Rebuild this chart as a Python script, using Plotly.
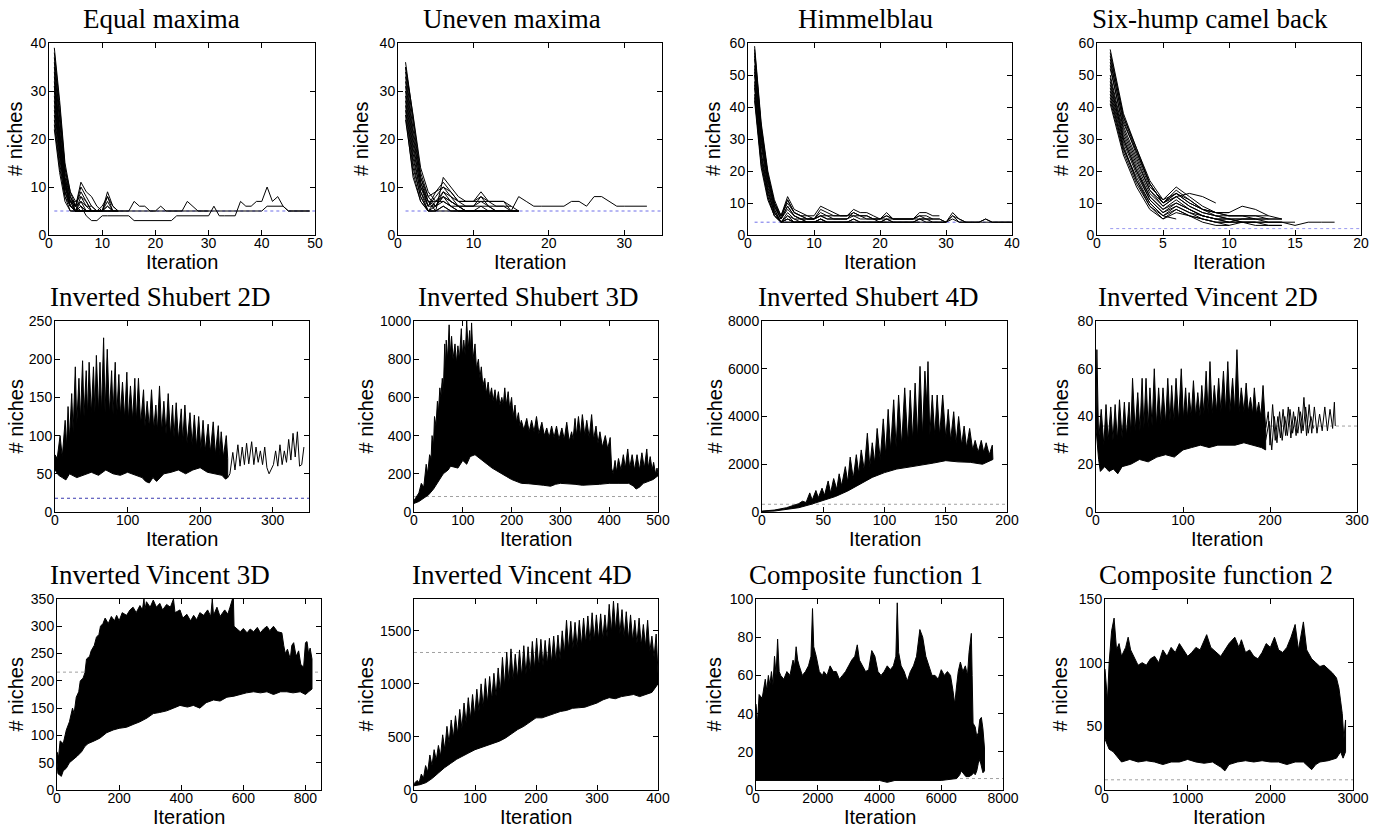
import plotly.graph_objects as go

W, H = 1386, 832
SERIF = "Liberation Serif, Times New Roman, serif"
SANS = "Liberation Sans, Arial, Helvetica, sans-serif"

TITLES = ["Equal maxima", "Uneven maxima", "Himmelblau", "Six-hump camel back",
          "Inverted Shubert 2D", "Inverted Shubert 3D", "Inverted Shubert 4D", "Inverted Vincent 2D",
          "Inverted Vincent 3D", "Inverted Vincent 4D", "Composite function 1", "Composite function 2"]
X_MAX = [50, 35, 40, 20, 350, 500, 200, 300, 850, 400, 8000, 3000]
X_DTICK = [10, 10, 10, 5, 100, 100, 50, 100, 200, 100, 2000, 1000]
Y_MAX = [40, 40, 60, 60, 250, 1000, 8000, 80, 350, 1800, 100, 150]
Y_DTICK = [10, 10, 10, 10, 50, 200, 2000, 20, 50, 500, 20, 50]
OPTIMA = [5, 5, 4, 2, 18, 81, 324, 36, 216, 1296, 6, 8]

# ---------- row 1: individual runs (values per iteration, starting at iteration 1)
EQ_RUNS = [
    [39, 28, 15, 9, 6, 5, 5, 5, 5, 5],
    [35, 24, 12, 7, 5, 5, 5, 5],
    [33, 22, 11, 6, 5, 6, 5, 5, 5],
    [31, 20, 12, 8, 6, 11, 9, 8, 6, 5, 5, 5],
    [29, 18, 10, 7, 6, 10, 8, 6, 5, 5, 9, 6, 5],
    [27, 17, 9, 6, 5, 8, 7, 5, 5, 5, 8, 6, 5],
    [25, 16, 9, 6, 5, 7, 5, 5, 5, 5, 7, 5, 5],
    [23, 14, 8, 5, 5, 6, 5, 5, 5, 5, 6, 5],
    [30, 19, 10, 7, 7, 8, 6, 6, 5, 5, 5, 5, 5],
    [34, 21, 11, 7, 6, 9, 7, 5, 5, 6, 8, 5, 5],
    [37, 26, 14, 8, 6, 5, 5, 5],
    [36, 25, 13, 8, 5, 5],
    [24, 15, 8, 6, 5, 5, 5],
    [22, 13, 7, 5, 5, 5],
    [31, 21, 11, 6, 6, 7, 6, 5, 5, 5, 6, 5],
    [38, 27, 14, 9, 7, 6, 5, 5, 5, 5],
    [32, 20, 11, 7, 5, 5, 5, 5, 5, 5, 5, 5, 5, 5, 5, 7, 6, 6, 5, 5, 6, 5, 5, 5, 5, 7, 6, 5, 5, 5],
    [28, 18, 10, 6, 5, 6, 4, 3, 3, 4, 4, 4, 4, 4, 4, 3, 3, 3, 3, 3, 3, 3, 3, 4, 4, 4, 4, 4, 4, 4,
     6, 4, 4, 4, 4, 7, 6, 6, 7, 7, 10, 7, 8, 6, 5, 5, 5, 5, 5],
    [26, 17, 9, 6, 5, 5, 5, 5, 5, 5, 5, 5, 5, 5, 5, 5, 5, 5, 5, 5, 5, 5, 5, 5, 5, 5, 5, 5, 5, 5,
     5, 5, 5, 5, 5, 5, 5, 5, 5, 5, 6, 6, 6, 6, 5, 5, 5, 5, 5],
]
UN_RUNS = [
    [36, 24, 13, 8, 6, 9, 7, 6, 5, 5, 5, 5, 5],
    [34, 22, 12, 7, 5, 12, 10, 8, 7, 7, 9, 7, 7, 7, 5, 8, 7, 6, 6, 6, 6, 6, 7, 7, 6, 8, 8, 7, 6, 6, 6, 6, 6],
    [32, 20, 11, 6, 9, 11, 9, 7, 6, 6, 6, 6, 5, 5, 5, 5],
    [30, 18, 10, 6, 8, 10, 8, 6, 6, 6, 8, 6, 6, 6, 5, 5],
    [28, 16, 9, 5, 7, 8, 7, 6, 5, 5, 6, 5, 5, 5, 5, 5],
    [26, 14, 8, 5, 6, 7, 6, 5, 5, 5, 5, 5, 5, 5, 5, 5],
    [25, 12, 7, 5, 5, 6, 5, 5, 5, 5, 5, 5],
    [33, 21, 11, 7, 7, 9, 8, 7, 7, 7, 7, 7, 7, 7, 6],
    [35, 23, 12, 8, 9, 10, 9, 7, 7, 7, 8, 7, 6, 6, 6, 5],
    [29, 17, 9, 6, 6, 8, 6, 6, 5, 5, 5, 5, 5, 5],
    [35, 25, 14, 9, 7, 7, 6, 5, 5, 5, 5, 5],
    [27, 15, 8, 5, 5, 6, 5, 5, 5, 5, 5, 5, 5, 5, 5, 5],
    [31, 19, 10, 7, 6, 8, 7, 6, 6, 6, 7, 6, 5, 5, 5, 5],
    [24, 13, 7, 5, 5, 5, 5, 5, 5, 5],
]
HIM_RUNS = [
    [59, 35, 20, 11, 6, 12, 8, 7, 6, 6, 9, 8, 7, 6, 6, 8, 7, 7, 6, 5, 7, 5, 5, 5, 5, 7, 7, 6, 6],
    [55, 32, 18, 10, 5, 11, 7, 6, 5, 5, 7, 6, 5, 5, 5, 7, 6, 6, 5, 5, 6, 5, 5, 5, 5, 6, 6, 5, 5, 4,
     7, 5, 4, 4, 4, 4, 4, 4, 4, 4],
    [52, 30, 17, 9, 5, 8, 6, 5, 5, 5, 6, 5, 5, 5, 5, 6, 5, 5, 5, 4, 5, 4, 4, 4, 4, 5, 5, 4, 4, 4,
     5, 4, 4, 4, 4, 5, 4, 4, 4, 4],
    [50, 28, 15, 8, 4, 7, 5, 5, 4, 4, 5, 4, 4, 4, 4, 5, 4, 4, 4, 4, 4],
    [48, 26, 14, 7, 4, 6, 5, 4, 4, 4, 4, 4, 4, 4, 4, 4],
    [46, 24, 13, 7, 4, 5, 4, 4, 4, 4, 5, 4, 4, 4, 4, 5, 4, 4, 4, 4, 5, 4, 4, 4, 4, 5, 4, 4, 4, 4, 6, 4, 4],
    [44, 22, 12, 6, 4, 5, 4, 4, 4, 4, 4, 4],
    [42, 21, 11, 6, 4, 4, 4, 4, 4],
    [57, 33, 19, 10, 6, 10, 7, 6, 6, 5, 6, 6, 6, 6, 6, 7, 6, 6, 5, 5, 6, 5, 5, 5, 5, 6, 5, 5, 5, 4,
     6, 5, 4, 4, 4, 5, 4, 4, 4, 4],
    [53, 31, 17, 9, 5, 9, 6, 5, 5, 5, 8, 7, 6, 6, 6, 6, 6, 5, 5, 5, 5, 5, 5, 5, 5, 5, 5, 5],
    [58, 34, 19, 10, 6, 11, 7, 6, 5, 5, 6, 5, 5, 5, 5],
    [56, 33, 18, 9, 5, 9, 6, 5, 4, 4, 5, 4, 4, 4, 4, 4, 4, 4, 4, 4, 4, 4, 4, 4, 4, 4],
    [51, 29, 16, 8, 4, 6, 4, 4, 4, 4, 4, 4, 4, 4, 4, 4, 4, 4, 4, 4, 4, 4, 4, 4, 4, 4, 4, 4, 4, 4],
    [47, 25, 14, 7, 4, 5, 4, 4, 4, 4, 4],
    [43, 23, 12, 6, 4, 4, 4, 4, 4, 4, 4],
]
SIX_RUNS = [
    [58, 38, 27, 16, 10, 12, 13, 12, 10],
    [54, 36, 25, 15, 11, 15, 12, 9, 7, 7, 9, 8, 6],
    [52, 34, 24, 14, 10, 13, 10, 8, 7, 6, 6, 6, 6, 5],
    [50, 32, 22, 13, 9, 12, 9, 7, 6, 5, 5, 5, 5, 5],
    [48, 30, 20, 12, 8, 11, 8, 6, 5, 5, 4, 4, 4, 4, 3, 4, 4, 4],
    [46, 29, 19, 11, 7, 10, 8, 6, 5, 4, 5, 5, 4, 4],
    [44, 27, 18, 10, 6, 9, 7, 5, 4, 4],
    [42, 26, 16, 9, 5, 8, 6, 5, 4, 3, 4, 3, 3, 3],
    [55, 35, 26, 16, 10, 14, 11, 8, 7, 7],
    [45, 28, 17, 9, 6, 5],
    [41, 25, 15, 8, 5, 7, 6, 4, 3, 3],
    [56, 37, 27, 17, 11, 13, 10, 8, 6, 6, 6, 6, 5, 5],
    [57, 37, 26, 16, 10, 13, 11, 8, 7, 6, 6, 5, 5],
    [53, 33, 23, 14, 9, 12, 9, 7, 6, 5, 4, 4, 4, 4, 4],
    [49, 31, 21, 12, 8, 10, 8, 6, 5, 4, 4, 4],
    [47, 30, 20, 11, 7, 9, 7, 6, 5, 5, 5, 5],
    [43, 27, 17, 10, 6, 8, 6, 5, 4, 4, 4, 4, 3, 3],
]

# ---------- dense panels: upper / lower envelope of the bundle of runs
SHU2_UP_X = [0, 3, 7, 10, 14, 16, 18, 20, 23, 25, 28, 30, 33, 35, 38, 40, 43, 45, 47, 50, 53, 55, 57, 60, 62, 64,
             67, 69, 72, 75, 78, 80, 83, 85, 88, 90, 93, 96, 99, 101, 104, 107, 110, 112, 115, 118, 122, 124,
             127, 130, 133, 136, 139, 141, 144, 147, 150, 153, 156, 159, 162, 164, 167, 170, 174, 176, 179,
             182, 186, 189, 192, 195, 198, 201, 204, 207, 211, 214, 218, 221, 225, 227, 229, 232, 236, 238]
SHU2_UP_Y = [75, 70, 100, 72, 120, 85, 138, 95, 155, 105, 190, 115, 175, 120, 198, 125, 185, 125, 196, 128, 190,
             130, 205, 130, 196, 130, 228, 130, 213, 128, 185, 128, 196, 125, 180, 125, 170, 122, 183, 120, 165,
             120, 175, 118, 175, 115, 160, 112, 145, 110, 160, 108, 140, 105, 165, 105, 145, 102, 155, 100, 140,
             98, 143, 95, 135, 92, 140, 90, 130, 88, 127, 85, 125, 82, 120, 80, 115, 78, 118, 75, 113, 75, 105,
             72, 100, 70]
SHU2_LO_X = [0, 5, 10, 15, 20, 30, 40, 50, 60, 70, 80, 90, 100, 110, 120, 125, 130, 135, 140, 150, 160, 170, 180,
             190, 200, 210, 220, 230, 235, 238]
SHU2_LO_Y = [55, 48, 45, 42, 50, 45, 48, 52, 48, 55, 50, 48, 52, 48, 45, 40, 38, 45, 40, 50, 52, 55, 50, 55, 58,
             52, 50, 48, 43, 45]
SHU2_TAIL_X = [238, 241, 245, 248, 252, 255, 258, 261, 264, 267, 271, 274, 277, 280, 283, 286, 289, 292, 295, 298,
               301, 304, 307, 310, 313, 316, 319, 322, 325, 328, 331, 334, 337, 340, 343]
SHU2_TAIL_Y = [45, 50, 78, 55, 88, 60, 85, 62, 90, 63, 92, 62, 85, 65, 80, 62, 85, 58, 50, 55, 62, 80, 60, 88, 62,
               80, 65, 95, 68, 103, 72, 105, 60, 62, 85]

SHU3_UP_X = [0, 10, 15, 20, 25, 28, 32, 35, 37, 40, 42, 45, 48, 50, 53, 55, 58, 60, 63, 65, 66, 69, 72, 74, 77, 80,
             84, 87, 90, 93, 97, 99, 102, 105, 108, 111, 114, 116, 118, 121, 125, 128, 132, 135, 138, 141, 145,
             148, 152, 155, 159, 162, 166, 169, 173, 176, 180, 183, 186, 189, 193, 196, 200, 203, 207, 210, 214,
             217, 220, 225, 231, 236, 241, 246, 251, 256, 262, 267, 272, 277, 282, 287, 292, 297, 303, 308, 313,
             318, 323, 326, 330, 333, 337, 341, 345, 350, 354, 359, 364, 368, 373, 377, 381, 386, 392, 397, 402,
             405, 408, 412, 415, 419, 424, 429, 433, 438, 442, 447, 452, 457, 462, 467, 472, 477, 480, 484, 488,
             491, 495, 498, 500]
SHU3_UP_Y = [60, 100, 150, 130, 250, 200, 300, 280, 400, 350, 500, 450, 580, 520, 650, 600, 700, 620, 880, 750, 900,
             800, 980, 820, 920, 800, 880, 780, 870, 800, 960, 820, 900, 820, 1000, 850, 950, 850, 990, 800, 880,
             750, 800, 700, 760, 660, 700, 620, 680, 600, 650, 580, 640, 570, 630, 560, 600, 560, 650, 560, 630,
             540, 600, 500, 560, 470, 520, 450, 480, 430, 490, 420, 480, 420, 500, 410, 470, 400, 440, 390, 450,
             390, 450, 380, 440, 380, 470, 370, 420, 380, 490, 400, 500, 400, 510, 400, 480, 390, 510, 380, 450,
             360, 420, 340, 400, 330, 390, 230, 200, 270, 210, 280, 220, 300, 230, 330, 230, 300, 220, 300, 220,
             310, 230, 330, 230, 290, 220, 260, 200, 230, 200]
SHU3_LO_X = [0, 10, 20, 30, 40, 50, 60, 70, 75, 90, 100, 108, 115, 125, 135, 140, 150, 160, 170, 180, 190, 200, 210,
             220, 235, 250, 265, 280, 290, 300, 315, 330, 345, 360, 380, 400, 420, 440, 450, 455, 462, 470, 480,
             490, 500]
SHU3_LO_Y = [45, 55, 70, 90, 120, 160, 200, 220, 240, 230, 270, 250, 290, 300, 280, 270, 250, 230, 215, 200, 185,
             170, 160, 150, 148, 145, 140, 135, 145, 150, 148, 145, 140, 140, 145, 150, 150, 150, 135, 120, 130,
             150, 160, 170, 190]

SHU4_UP_X = [0, 10, 20, 25, 30, 33, 36, 39, 41, 44, 46, 49, 51, 54, 56, 58.5, 61, 63, 65, 68, 70, 72, 74.5, 77, 79,
             81, 83.5, 86, 88, 90, 92, 94, 96.5, 99, 101, 103, 105, 107.5, 109.5, 111.5, 114, 116.5, 119, 121, 123,
             125, 127, 129, 131, 133, 134.5, 135.5, 137, 139, 141, 143, 145, 147.5, 150, 152, 154, 156.5, 158.5,
             160.5, 163, 165, 167, 169.5, 172, 174, 176.5, 179, 181, 183, 185.5, 188, 188.5]
SHU4_UP_Y = [40, 80, 180, 250, 350, 450, 400, 800, 500, 900, 600, 1000, 700, 1300, 800, 1400, 950, 1600, 1100,
             1900, 1250, 2300, 1400, 2400, 1600, 2600, 1750, 3300, 1900, 2900, 2050, 3500, 2200, 3900, 2400,
             4300, 2600, 4700, 2700, 4900, 2800, 5200, 2900, 5100, 3000, 5400, 3100, 6100, 3200, 5900, 4500,
             6300, 3200, 4900, 3200, 4900, 3200, 4900, 3100, 4300, 3000, 4200, 2900, 4000, 2800, 3600, 2700,
             3500, 2600, 3000, 2500, 3000, 2500, 2900, 2400, 2800, 2300]
SHU4_LO_X = [0, 10, 20, 30, 40, 50, 60, 70, 80, 90, 100, 110, 120, 130, 140, 150, 160, 170, 180, 188.5]
SHU4_LO_Y = [20, 40, 100, 180, 320, 480, 650, 880, 1150, 1450, 1650, 1800, 1880, 1950, 2050, 2150, 2100, 2080,
             2000, 2200]

VIN2_UP_X = [0, 1, 3, 6, 9, 11.5, 14, 17, 19.5, 22, 24.5, 27, 30, 32.6, 35, 38, 40, 42, 45, 48, 50.5, 53, 55,
             57.5, 60, 62, 64.5, 67, 69.5, 72, 74.5, 77, 80, 82.5, 85, 87, 89.5, 92, 95, 98, 100.5, 103, 105, 107,
             109.5, 112, 114.5, 117, 119.5, 121.6, 124, 126.6, 129, 131, 133.5, 136, 138.5, 141, 143.5, 146.5,
             149, 151.5, 154, 157, 159.5, 162, 164.5, 167, 170, 172.6, 175, 177.6, 180, 182, 184.5, 187, 189.5,
             192, 195]
VIN2_UP_Y = [40, 68, 30, 43, 28, 45, 30, 44, 30, 45, 30, 47, 31, 46, 32, 46, 33, 56, 34, 50, 34, 56, 35, 56, 35,
             52, 36, 60, 36, 52, 37, 52, 37, 56, 38, 53, 38, 56, 38, 60, 39, 52, 39, 50, 40, 55, 40, 50, 40, 53,
             41, 59, 41, 63, 41, 53, 42, 56, 42, 59, 42, 63, 42, 56, 42, 68, 42, 52, 42, 54, 42, 48, 41, 52, 41,
             46, 40, 53, 35]
VIN2_LO_X = [0, 3, 5, 10, 15, 20, 25, 30, 40, 50, 60, 70, 80, 90, 100, 110, 120, 130, 140, 150, 160, 170, 180, 190,
             195]
VIN2_LO_Y = [35, 22, 17, 19, 17, 18, 16, 19, 20, 22, 21, 23, 24, 23, 26, 27, 28, 27, 28, 28, 28, 29, 28, 27, 26]
VIN2_TAIL_X = [195, 198, 200, 203, 206, 209, 212, 215, 218, 221, 224, 227, 230, 233, 236, 239, 242, 245, 248, 251,
               254, 257, 260, 263, 266, 269, 272, 274, 275]
VIN2_TAIL_Y = [35, 42, 28, 45, 30, 40, 31, 43, 32, 44, 31, 42, 32, 44, 33, 48, 32, 45, 33, 44, 33, 41, 34, 44, 34,
               43, 35, 46, 36]
VIN2_TAIL2_X = [195, 199, 202, 205, 208, 211, 214, 217, 220, 223, 226, 229, 232, 235, 238, 241, 244, 247, 250]
VIN2_TAIL2_Y = [30, 38, 26, 40, 29, 42, 30, 40, 32, 43, 33, 40, 33, 42, 34, 44, 33, 40, 35]

VIN3_UP_X = [0, 5, 10, 20, 30, 40, 50, 55, 62, 70, 75, 84, 90, 95, 105, 110, 120, 127, 135, 140, 148, 155, 165,
             175, 185, 192, 200, 210, 224, 235, 245, 255, 267, 275, 280, 283, 288, 300, 310, 320, 331, 340, 353,
             365, 375, 380, 396, 405, 418, 430, 440, 450, 460, 472, 485, 495, 500, 504, 515, 525, 540, 550, 557,
             565, 568, 570, 580, 590, 600, 612, 622, 633, 645, 655, 665, 676, 685, 697, 710, 724, 730, 735, 742,
             751, 756, 762, 770, 778, 785, 794, 800, 805, 810, 815, 821]
VIN3_UP_Y = [70, 60, 90, 85, 110, 125, 150, 140, 170, 180, 200, 205, 215, 240, 245, 255, 265, 280, 285, 300, 305,
             315, 305, 318, 310, 320, 310, 325, 320, 330, 335, 325, 338, 330, 350, 330, 345, 335, 348, 335, 342,
             330, 340, 335, 350, 325, 330, 315, 322, 310, 320, 312, 325, 320, 330, 318, 350, 320, 335, 318, 330,
             322, 335, 350, 350, 300, 295, 290, 296, 288, 295, 290, 298, 288, 295, 300, 292, 300, 290, 288, 265,
             250, 258, 240, 265, 270, 245, 255, 230, 225, 270, 272, 250, 260, 240]
VIN3_LO_X = [0, 3, 14, 20, 30, 40, 52, 65, 79, 90, 100, 120, 138, 160, 181, 200, 224, 245, 267, 290, 310, 330, 353,
             375, 396, 420, 439, 460, 480, 504, 525, 547, 570, 590, 610, 633, 655, 676, 697, 720, 740, 760, 783,
             800, 810, 821]
VIN3_LO_Y = [50, 30, 25, 35, 40, 50, 55, 62, 70, 80, 85, 90, 95, 105, 110, 113, 115, 120, 125, 132, 140, 142, 145,
             150, 155, 152, 155, 150, 160, 165, 163, 170, 172, 175, 178, 180, 178, 180, 175, 180, 180, 178, 180,
             175, 180, 185]

VIN4_UP_X = [0, 5, 8.5, 12, 15.5, 19, 22.5, 26, 29.5, 33, 36.5, 40, 43.5, 47, 50.5, 54, 57.5, 61, 64.5, 68, 71.5,
             75, 78.5, 82, 85.5, 89, 92.5, 96, 99.5, 103, 106.5, 110, 113.5, 117, 120.5, 124, 127.5, 131, 134.5,
             138, 141.5, 145, 148.5, 152, 155.5, 159, 162.5, 166, 169.5, 173, 176.5, 180, 183.5, 187, 190.5, 194,
             197.5, 201, 204.5, 208, 211.5, 215, 218.5, 222, 225.5, 229, 232.5, 236, 239.5, 243, 246.5, 250,
             253.5, 257, 260.5, 264, 267.5, 271, 274.5, 278, 281.5, 285, 288.5, 292, 295.5, 299, 302.5, 306,
             309.5, 313, 316.5, 320, 323.5, 327, 330.5, 334, 337.5, 341, 344.5, 348, 351.5, 355, 358.5, 362,
             365.5, 369, 372.5, 376, 379.5, 383, 386.5, 390, 393.5, 397, 400]
VIN4_UP_Y = [60, 90, 70, 150, 110, 230, 170, 330, 230, 380, 280, 420, 320, 520, 380, 600, 440, 660, 490, 700, 530,
             760, 580, 820, 630, 870, 670, 900, 700, 950, 740, 1000, 780, 1050, 820, 1070, 850, 1100, 880, 1150,
             920, 1250, 980, 1300, 1020, 1330, 1040, 1280, 1050, 1320, 1070, 1360, 1090, 1350, 1110, 1400, 1140,
             1430, 1160, 1420, 1170, 1410, 1180, 1430, 1200, 1450, 1210, 1460, 1230, 1500, 1280, 1600, 1320,
             1590, 1330, 1580, 1340, 1600, 1360, 1620, 1380, 1640, 1400, 1670, 1410, 1650, 1420, 1660, 1420,
             1650, 1440, 1750, 1480, 1780, 1500, 1760, 1470, 1700, 1440, 1680, 1420, 1650, 1400, 1600, 1380,
             1620, 1360, 1560, 1350, 1600, 1300, 1450, 1250, 1470, 1100]
VIN4_LO_X = [0, 10, 20, 30, 40, 50, 60, 70, 80, 90, 100, 110, 120, 130, 140, 150, 160, 170, 180, 190, 200, 210, 220,
             230, 240, 250, 260, 270, 280, 290, 300, 310, 320, 330, 340, 350, 360, 370, 380, 390, 400]
VIN4_LO_Y = [40, 50, 70, 110, 160, 210, 250, 290, 320, 350, 380, 400, 420, 440, 460, 490, 530, 570, 600, 640, 680,
             680, 700, 720, 740, 750, 770, 775, 780, 800, 820, 850, 870, 860, 880, 890, 900, 880, 900, 920, 1000]

CF1_UP_X = [0, 50, 100, 200, 300, 350, 400, 450, 500, 550, 600, 650, 700, 750, 800, 900, 1000, 1100, 1200, 1250,
            1300, 1350, 1400, 1500, 1600, 1700, 1780, 1830, 1870, 1950, 2050, 2150, 2200, 2300, 2400, 2500, 2600,
            2700, 2800, 2900, 3000, 3100, 3200, 3280, 3350, 3450, 3550, 3650, 3750, 3850, 3950, 4050, 4150, 4250,
            4350, 4450, 4530, 4575, 4620, 4700, 4800, 4900, 5000, 5100, 5200, 5307, 5400, 5500, 5600, 5700, 5800,
            5900, 6000, 6100, 6200, 6300, 6380, 6437, 6500, 6550, 6620, 6700, 6780, 6850, 6900, 6975, 7000, 7030,
            7100, 7150, 7200, 7250, 7300, 7350, 7400]
CF1_UP_Y = [45, 35, 50, 48, 58, 52, 60, 55, 62, 55, 70, 60, 79, 62, 60, 58, 62, 60, 68, 65, 75, 68, 65, 60, 62, 65,
            70, 95, 75, 70, 62, 60, 62, 60, 65, 62, 62, 58, 60, 62, 65, 68, 70, 76, 68, 65, 62, 63, 73, 70, 62, 60,
            62, 65, 63, 65, 70, 98, 72, 65, 62, 57, 62, 65, 70, 84, 80, 70, 65, 60, 60, 58, 63, 60, 62, 60, 52, 45,
            55, 62, 67, 62, 65, 60, 72, 82, 60, 35, 33, 28, 30, 37, 38, 32, 22]
CF1_LO_X = [0, 500, 1000, 1500, 2000, 2500, 3000, 3500, 4000, 4250, 4500, 5000, 5500, 6000, 6500, 6600, 6650, 6700,
            6800, 6900, 7000, 7050, 7100, 7150, 7200, 7250, 7300, 7350, 7400]
CF1_LO_Y = [5, 5, 5, 5, 5, 5, 5, 5, 5, 4, 5, 5, 5, 5, 6, 8, 10, 9, 7, 7, 8, 9, 8, 10, 14, 16, 12, 9, 10]

CF2_UP_X = [0, 30, 50, 80, 110, 140, 170, 200, 250, 280, 310, 350, 400, 450, 500, 550, 600, 650, 700, 750, 800,
            850, 900, 950, 1000, 1050, 1100, 1150, 1230, 1280, 1350, 1400, 1450, 1500, 1570, 1620, 1650, 1700,
            1750, 1800, 1850, 1900, 1950, 2000, 2050, 2100, 2150, 2200, 2250, 2300, 2340, 2400, 2440, 2500, 2550,
            2600, 2650, 2700, 2750, 2800, 2830, 2850, 2870, 2890, 2910]
CF2_UP_Y = [95, 70, 100, 125, 135, 110, 115, 105, 112, 120, 110, 105, 98, 100, 98, 103, 105, 100, 110, 105, 112,
            108, 115, 110, 105, 108, 112, 110, 122, 112, 108, 105, 110, 115, 120, 112, 118, 108, 110, 105, 103,
            108, 115, 112, 120, 110, 108, 112, 120, 130, 110, 132, 110, 103, 100, 97, 98, 95, 92, 88, 80, 70, 60,
            40, 55]
CF2_LO_X = [0, 50, 100, 200, 300, 400, 500, 600, 700, 800, 900, 1000, 1100, 1200, 1300, 1400, 1450, 1500, 1600,
            1700, 1800, 1900, 2000, 2100, 2200, 2300, 2400, 2500, 2550, 2600, 2700, 2800, 2850, 2880, 2910]
CF2_LO_Y = [40, 32, 30, 22, 24, 22, 23, 22, 20, 22, 22, 24, 22, 21, 22, 18, 15, 20, 22, 23, 22, 23, 22, 22, 20, 22,
            22, 16, 20, 22, 23, 25, 30, 25, 30]

# ---------- layout positions in page pixels (plot area: left, right, top, bottom)
BOXES = [(49, 315, 43, 235), (398, 662, 43, 235), (748, 1012, 43, 235), (1097, 1361, 43, 235),
         (55, 309, 321, 512), (414, 658, 321, 512), (762, 1007, 321, 512), (1096, 1357, 321, 512),
         (57, 321, 599, 790), (414, 658, 599, 790), (756, 1003, 599, 790), (1105, 1353, 599, 790)]
TITLE_CX = [161, 512, 865, 1210, 160, 528, 868, 1208, 160, 522, 866, 1216]
YTITLE_OFFSET = [34, 37, 35, 36, 40, 49, 48, 36, 42, 49, 43, 46]
REF_COLORS = ["#6f6fe8", "#6f6fe8", "#6f6fe8", "#9a9af0", "#3a3ab0", "#a0a0a0",
              "#a0a0a0", "#a0a0a0", "#a0a0a0", "#a0a0a0", "#a0a0a0", "#a0a0a0"]


def px_x(p):
    return p / W


def px_y(p):
    return 1 - p / H


fig = go.Figure()


def ax_names(i):
    return ("x" if i == 0 else f"x{i+1}"), ("y" if i == 0 else f"y{i+1}")


LINE = dict(color="black", width=1)


def add_ref(i):
    xa, ya = ax_names(i)
    x0 = 1 if i < 4 else 0
    fig.add_trace(go.Scatter(x=[x0, X_MAX[i]], y=[OPTIMA[i], OPTIMA[i]], mode="lines", xaxis=xa, yaxis=ya,
                             line=dict(color=REF_COLORS[i], width=1, dash="dot"), hoverinfo="skip"))


def add_runs(i, runs):
    xa, ya = ax_names(i)
    for r in runs:
        fig.add_trace(go.Scatter(x=list(range(1, len(r) + 1)), y=r, mode="lines", xaxis=xa, yaxis=ya, line=LINE))


def add_band(i, ux, uy, lx, ly):
    xa, ya = ax_names(i)
    fig.add_trace(go.Scatter(x=list(ux) + list(lx)[::-1], y=list(uy) + list(ly)[::-1], mode="lines",
                             fill="toself", fillcolor="black", xaxis=xa, yaxis=ya, line=LINE))


def add_line(i, x, y):
    xa, ya = ax_names(i)
    fig.add_trace(go.Scatter(x=x, y=y, mode="lines", xaxis=xa, yaxis=ya, line=LINE))


for i in range(12):
    add_ref(i)

add_runs(0, EQ_RUNS)
add_runs(1, UN_RUNS)
add_runs(2, HIM_RUNS)
add_runs(3, SIX_RUNS)
add_band(4, SHU2_UP_X, SHU2_UP_Y, SHU2_LO_X, SHU2_LO_Y)
add_line(4, SHU2_TAIL_X, SHU2_TAIL_Y)
add_band(5, SHU3_UP_X, SHU3_UP_Y, SHU3_LO_X, SHU3_LO_Y)
add_band(6, SHU4_UP_X, SHU4_UP_Y, SHU4_LO_X, SHU4_LO_Y)
add_band(7, VIN2_UP_X, VIN2_UP_Y, VIN2_LO_X, VIN2_LO_Y)
add_line(7, VIN2_TAIL_X, VIN2_TAIL_Y)
add_line(7, VIN2_TAIL2_X, VIN2_TAIL2_Y)
add_band(8, VIN3_UP_X, VIN3_UP_Y, VIN3_LO_X, VIN3_LO_Y)
add_band(9, VIN4_UP_X, VIN4_UP_Y, VIN4_LO_X, VIN4_LO_Y)
add_band(10, CF1_UP_X, CF1_UP_Y, CF1_LO_X, CF1_LO_Y)
add_band(11, CF2_UP_X, CF2_UP_Y, CF2_LO_X, CF2_LO_Y)

layout = dict(template="none", width=W, height=H, margin=dict(l=0, r=0, t=0, b=0, pad=0), showlegend=False,
              plot_bgcolor="white", paper_bgcolor="white", annotations=[])
axis_common = dict(showline=True, linecolor="black", linewidth=1, mirror="ticks", ticks="inside", ticklen=5,
                   tickwidth=1, tickcolor="black", showgrid=False, zeroline=False, automargin=False,
                   tickfont=dict(family=SANS, size=14, color="black"))
for i in range(12):
    l, r, t, b = BOXES[i]
    xk = "xaxis" if i == 0 else f"xaxis{i+1}"
    yk = "yaxis" if i == 0 else f"yaxis{i+1}"
    xa, ya = ax_names(i)
    layout[xk] = dict(axis_common, domain=[px_x(l), px_x(r)], anchor=ya, range=[0, X_MAX[i]], tick0=0,
                      dtick=X_DTICK[i], ticklabelstandoff=-5)
    layout[yk] = dict(axis_common, domain=[px_y(b), px_y(t)], anchor=xa, range=[0, Y_MAX[i]], tick0=0,
                      dtick=Y_DTICK[i], ticklabelstandoff=-1)
    layout["annotations"].append(dict(text=TITLES[i], xref="paper", yref="paper", x=px_x(TITLE_CX[i]),
                                      y=px_y(t - 24), xanchor="center", yanchor="middle", showarrow=False,
                                      font=dict(family=SERIF, size=27, color="black")))
    layout["annotations"].append(dict(text="Iteration", xref="paper", yref="paper", x=px_x((l + r) / 2),
                                      y=px_y(b + 27), xanchor="center", yanchor="middle", showarrow=False,
                                      font=dict(family=SANS, size=20, color="black")))
    layout["annotations"].append(dict(text="# niches", xref="paper", yref="paper",
                                      x=px_x(l - YTITLE_OFFSET[i]), y=px_y((t + b) / 2), textangle=-90,
                                      xanchor="center", yanchor="middle", showarrow=False,
                                      font=dict(family=SANS, size=20, color="black")))

fig.update_layout(**layout)
# remove the page's default 8px body margin so figure pixels map to page pixels; hide the mode bar
fig.write_html("out.html", config={"displayModeBar": False},
               post_script="document.body.style.margin='0px';")
